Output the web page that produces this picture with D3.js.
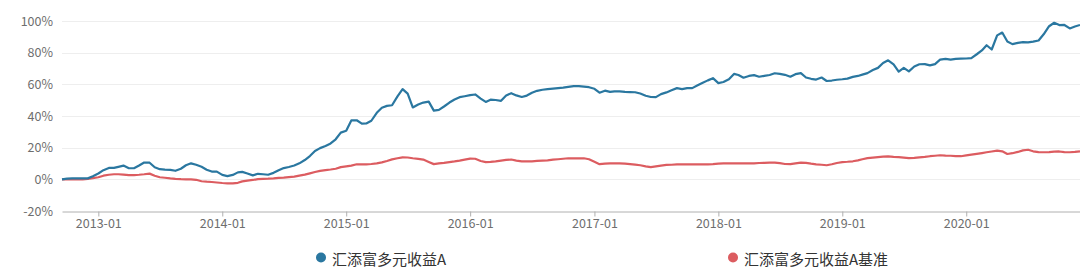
<!DOCTYPE html>
<html>
<head>
<meta charset="utf-8">
<script src="https://cdn.jsdelivr.net/npm/d3@7"></script>
<style>
  html, body { margin: 0; padding: 0; background: #fff; }
  svg { display: block; }
  text { font-family: "Noto Sans CJK SC", "Noto Sans", sans-serif; }
</style>
</head>
<body>
<svg id="chart" width="1080" height="270"></svg>
<script>
// ---- data (semi-monthly samples, cumulative return in %) ----
const startDate = "2012-09-16";
const endDate = "2020-12-01";
const seriesNames = ["汇添富多元收益A", "汇添富多元收益A基准"];
const seriesColors = ["#2a77a0", "#dc5c60"];
const yTicks = [-20, 0, 20, 40, 60, 80, 100];

const fundValues = [
  0.0, 0.5, 0.6, 0.6, 0.6, 0.6, 2.0, 3.7, 5.8, 7.2,
  7.2, 7.9, 8.7, 7.0, 7.0, 8.7, 10.6, 10.5, 7.6, 6.4,
  6.1, 6.0, 5.4, 6.7, 8.9, 10.1, 9.2, 7.9, 6.1, 4.9,
  4.9, 2.8, 2.0, 2.8, 4.4, 4.7, 3.7, 2.5, 3.5, 3.2,
  2.9, 4.1, 5.7, 7.1, 7.8, 8.7, 10.1, 12.2, 14.7, 17.9,
  19.7, 21.1, 22.7, 25.3, 29.5, 30.7, 37.2, 37.3, 35.2, 35.3,
  37.0, 42.0, 45.2, 46.4, 46.8, 52.4, 57.0, 54.1, 45.4, 47.3,
  48.5, 49.1, 43.4, 43.9, 46.0, 48.5, 50.4, 51.9, 52.5, 53.2,
  53.6, 51.0, 48.9, 50.3, 50.1, 49.6, 53.0, 54.4, 53.0, 52.0,
  52.9, 54.7, 55.9, 56.6, 57.0, 57.3, 57.6, 57.9, 58.4, 58.9,
  58.9, 58.6, 58.2, 57.2, 54.7, 56.0, 55.2, 55.6, 55.5, 55.2,
  55.1, 55.0, 54.2, 52.8, 52.0, 51.9, 53.8, 54.9, 56.2, 57.6,
  57.0, 57.6, 57.6, 59.4, 61.0, 62.5, 63.9, 60.8, 61.5, 63.2,
  66.6, 65.9, 64.2, 65.3, 65.8, 64.8, 65.3, 65.9, 67.0, 66.6,
  66.0, 64.8, 66.4, 67.1, 64.3, 63.5, 63.0, 64.3, 62.1, 62.4,
  62.9, 63.2, 63.6, 64.7, 65.3, 66.1, 67.1, 69.0, 70.4, 73.5,
  75.2, 72.6, 68.0, 70.4, 68.2, 71.3, 72.7, 72.8, 72.0, 72.8,
  75.6, 76.1, 75.6, 76.1, 76.2, 76.3, 76.6, 79.0, 81.4, 84.7,
  82.0, 90.9, 92.7, 87.0, 85.4, 86.2, 86.7, 86.5, 87.0, 87.7,
  91.6, 96.7, 98.9, 97.4, 97.5, 95.3, 96.5, 97.5
];

const benchValues = [
  0.0, 0.0, 0.0, 0.0, 0.0, 0.3, 0.8, 1.3, 2.3, 2.9,
  3.2, 3.2, 3.0, 2.7, 2.7, 2.9, 3.2, 3.6, 2.3, 1.3,
  1.0, 0.6, 0.3, 0.1, 0.0, 0.0, -0.3, -1.2, -1.5, -1.7,
  -2.0, -2.3, -2.5, -2.5, -2.2, -1.3, -0.8, -0.4, 0.1, 0.3,
  0.4, 0.6, 0.9, 1.1, 1.4, 1.7, 2.3, 3.0, 3.8, 4.6,
  5.3, 5.8, 6.2, 6.7, 7.7, 8.2, 8.7, 9.5, 9.5, 9.5,
  9.7, 10.1, 10.7, 11.6, 12.6, 13.3, 13.9, 13.8, 13.3, 12.9,
  12.5, 11.0, 9.6, 10.1, 10.4, 10.9, 11.3, 11.8, 12.4, 13.1,
  13.0, 11.6, 10.9, 11.0, 11.3, 11.8, 12.3, 12.5, 11.8, 11.4,
  11.4, 11.4, 11.6, 11.8, 12.0, 12.4, 12.7, 13.0, 13.3, 13.3,
  13.3, 13.3, 12.7, 11.1, 9.6, 9.9, 10.1, 10.1, 10.1, 9.9,
  9.6, 9.3, 8.9, 8.2, 7.7, 8.2, 8.7, 9.1, 9.2, 9.5,
  9.5, 9.5, 9.5, 9.5, 9.5, 9.5, 9.6, 9.9, 10.1, 10.1,
  10.1, 10.1, 10.1, 10.1, 10.1, 10.3, 10.4, 10.6, 10.6, 10.2,
  9.7, 9.6, 10.1, 10.6, 10.4, 9.9, 9.5, 9.2, 8.9, 9.5,
  10.3, 10.9, 11.1, 11.4, 12.0, 12.7, 13.4, 13.7, 14.0, 14.3,
  14.5, 14.2, 14.0, 13.7, 13.4, 13.6, 13.9, 14.2, 14.6, 14.9,
  15.2, 15.0, 14.9, 14.7, 14.6, 15.1, 15.6, 16.1, 16.6, 17.1,
  17.6, 18.1, 17.7, 16.0, 16.5, 17.3, 18.3, 18.7, 17.7, 17.2,
  17.1, 17.2, 17.5, 17.6, 17.2, 17.1, 17.3, 17.7
];

// ---- semi-monthly dates (1st and 16th of each month) ----
const parse = d3.timeParse("%Y-%m-%d");
const d0 = parse(startDate), d1 = parse(endDate);
const dates = [d0];
d3.timeMonth.range(d3.timeMonth.ceil(d0), d1).forEach(m => {
  dates.push(m);
  dates.push(d3.timeDay.offset(m, 15));
});
dates.push(d1);

const svg = d3.select("#chart");
const margin = { left: 62, right: 0, top: 21, bottom: 59 };
const W = 1080, H = 270;

const x = d3.scaleTime().domain([d0, d1]).range([margin.left, W - margin.right]);
const y = d3.scaleLinear().domain([-20, 100]).range([H - margin.bottom, margin.top]);

// grid lines
svg.append("g")
  .selectAll("line")
  .data(yTicks.filter(t => t > -20))
  .join("line")
  .attr("x1", margin.left).attr("x2", W)
  .attr("y1", d => Math.round(y(d)) + 0.5).attr("y2", d => Math.round(y(d)) + 0.5)
  .attr("stroke", "#eeeeee").attr("stroke-width", 1);

// y axis labels
const yAxis = d3.axisLeft(y).tickValues(yTicks).tickSize(0).tickPadding(9)
  .tickFormat(d => d + "%");
svg.append("g")
  .attr("transform", `translate(${margin.left},0)`)
  .call(yAxis)
  .call(g => g.select(".domain").remove())
  .call(g => g.selectAll("text").attr("fill", "#6e6e6e").style("font-size", "12.5px"));

// x axis
const xAxis = d3.axisBottom(x)
  .ticks(d3.timeYear.every(1))
  .tickFormat(d3.timeFormat("%Y-%m"))
  .tickSize(5).tickSizeOuter(0).tickPadding(3);
svg.append("g")
  .attr("transform", `translate(0,${Math.round(y(-20)) + 0.5})`)
  .call(xAxis)
  .call(g => g.select(".domain").attr("stroke", "#b0b0b0"))
  .call(g => g.selectAll(".tick line").attr("stroke", "#b0b0b0"))
  .call(g => g.selectAll("text").attr("fill", "#6e6e6e").style("font-size", "12.5px"));

// lines
const line = d3.line()
  .x((d, i) => x(dates[i]))
  .y(d => y(d));

[benchValues, fundValues].forEach((vals, k) => {
  const idx = k === 0 ? 1 : 0;
  svg.append("path")
    .datum(vals)
    .attr("fill", "none")
    .attr("stroke", seriesColors[idx])
    .attr("stroke-width", 2.2)
    .attr("stroke-linejoin", "round")
    .attr("d", line);
});

// legend
const legendX = [321, 733];
const lg = svg.append("g");
seriesNames.forEach((name, i) => {
  lg.append("circle")
    .attr("cx", legendX[i]).attr("cy", 257.5).attr("r", 5)
    .attr("fill", seriesColors[i]);
  lg.append("text")
    .attr("x", legendX[i] + 11).attr("y", 258)
    .attr("dominant-baseline", "central")
    .attr("fill", "#333")
    .style("font-size", "15px")
    .text(name);
});
</script>
</body>
</html>
